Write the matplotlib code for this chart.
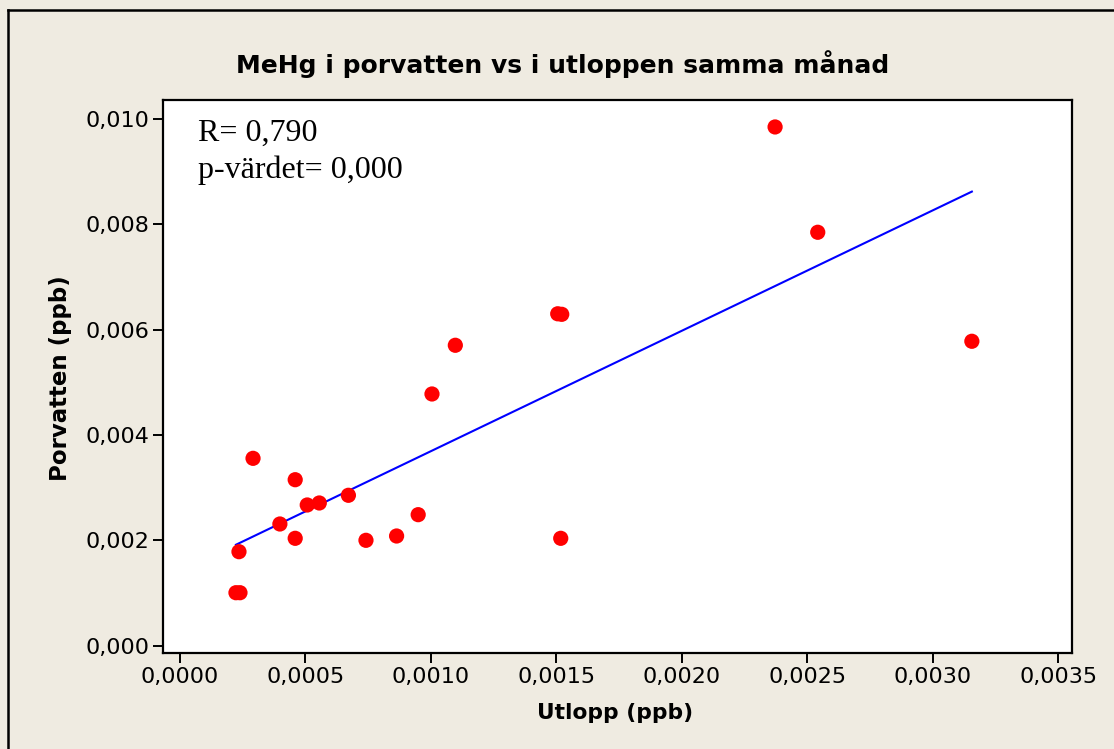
import numpy as np
import matplotlib
matplotlib.use("Agg")
import matplotlib.pyplot as plt
from matplotlib.lines import Line2D

# ---- data ----
utlopp = [0.000223, 0.000239, 0.000235, 0.000291, 0.000398, 0.000459, 0.000459,
          0.000507, 0.000555, 0.000671, 0.000741, 0.000863, 0.000949, 0.001004,
          0.001097, 0.001505, 0.001521, 0.001517, 0.002371, 0.002541, 0.003155]
porvatten = [0.001003, 0.001003, 0.001782, 0.003555, 0.002308, 0.003149, 0.002036,
             0.002669, 0.002707, 0.002853, 0.001998, 0.002080, 0.002485, 0.004777,
             0.005702, 0.006300, 0.006290, 0.002036, 0.009848, 0.007848, 0.005778]
xticks = [0.0, 0.0005, 0.0010, 0.0015, 0.0020, 0.0025, 0.0030, 0.0035]
xtick_labels = ["0,0000", "0,0005", "0,0010", "0,0015", "0,0020", "0,0025", "0,0030", "0,0035"]
yticks = [0.000, 0.002, 0.004, 0.006, 0.008, 0.010]
ytick_labels = ["0,000", "0,002", "0,004", "0,006", "0,008", "0,010"]
title = "MeHg i porvatten vs i utloppen samma månad"
xlabel = "Utlopp (ppb)"
ylabel = "Porvatten (ppb)"
stats_lines = ["R= 0,790", "p-värdet= 0,000"]

W, H = 1114, 749
bg = "#efebe1"
fig = plt.figure(figsize=(W / 100, H / 100), dpi=100, facecolor=bg)

# outer border (top and left only visible)
fig.add_artist(Line2D([8 / W, 8 / W], [0, 1 - 10 / H], transform=fig.transFigure,
                      color="black", lw=1.8))
fig.add_artist(Line2D([8 / W, 1], [1 - 10 / H, 1 - 10 / H], transform=fig.transFigure,
                      color="black", lw=1.8))

l, r, t, b = 163, 1072, 100, 653
ax = fig.add_axes([l / W, 1 - b / H, (r - l) / W, (b - t) / H])
ax.set_facecolor("white")
for s in ax.spines.values():
    s.set_linewidth(1.6)
    s.set_color("black")

ax.set_xlim(-0.0000677, 0.003554)
ax.set_ylim(-0.000142, 0.01036)

x = np.array(utlopp)
y = np.array(porvatten)
k, m = np.polyfit(x, y, 1)
xl = np.array([x.min(), x.max()])
ax.plot(xl, k * xl + m, color="#0000ff", lw=1.5, zorder=2)
ax.scatter(x, y, s=120, color="#ff0000", edgecolors="none", zorder=3)

ax.set_xticks(xticks)
ax.set_xticklabels(xtick_labels)
ax.set_yticks(yticks)
ax.set_yticklabels(ytick_labels)
ax.tick_params(direction="out", length=7, width=1.4, labelsize=16, pad=3)

fig.text(563 / W, 1 - 64 / H, title, ha="center", va="center",
         fontsize=18, fontweight="bold", family="DejaVu Sans")
fig.text(615 / W, 1 - 713 / H, xlabel, ha="center", va="center",
         fontsize=15.7, fontweight="bold", family="DejaVu Sans")
fig.text(60 / W, 1 - 378 / H, ylabel, ha="center", va="center", rotation=90,
         fontsize=16.5, fontweight="bold", family="DejaVu Sans")

for line, yb in zip(stats_lines, [141, 178]):
    fig.text(198 / W, 1 - yb / H, line, ha="left", va="baseline",
             fontsize=23, family="Liberation Serif")

fig.savefig("out.png", dpi=100, facecolor=bg)
